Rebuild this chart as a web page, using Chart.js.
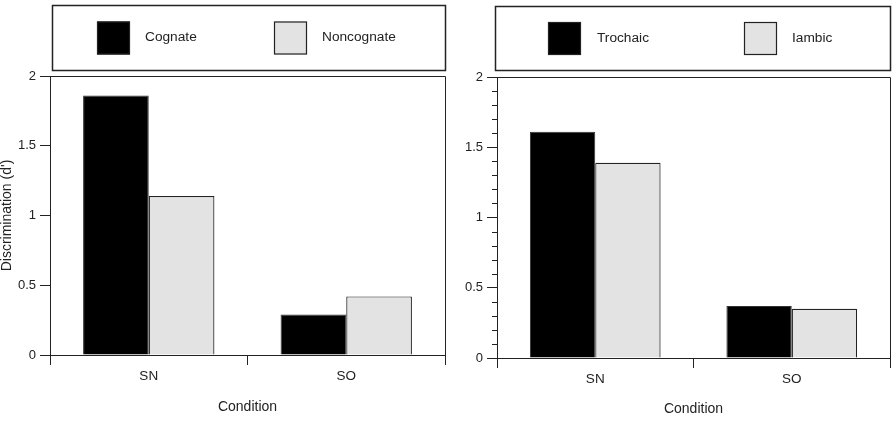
<!DOCTYPE html>
<html>
<head>
<meta charset="utf-8">
<script src="https://cdn.jsdelivr.net/npm/chart.js@4/dist/chart.umd.min.js"></script>
<style>
  html, body { margin: 0; padding: 0; background: #fff; }
  #wrap { position: relative; width: 895px; height: 424px; }
  #c1 { position: absolute; left: 0; top: 0; }
  #c2 { position: absolute; left: 450px; top: 0; }
</style>
</head>
<body>
<div id="wrap">
  <canvas id="c1" width="450" height="424"></canvas>
  <canvas id="c2" width="445" height="424"></canvas>
</div>
<script>
// ---- Data ----
const categories = ['SN', 'SO'];
const leftSeriesNames = ['Cognate', 'Noncognate'];
const cognate = [1.86, 0.29];
const noncognate = [1.14, 0.42];
const rightSeriesNames = ['Trochaic', 'Iambic'];
const trochaic = [1.61, 0.37];
const iambic = [1.39, 0.35];
const yTickValues = [0, 0.5, 1, 1.5, 2];
const yTitle = "Discrimination (d')";
const xTitle = 'Condition';

const FONT = 'Liberation Sans, Arial, sans-serif';
const BLACK = '#000000';
const GRAY = '#e3e3e3';

// Plugin: frame around plot area + custom boxed legend + optional minor ticks
const framePlugin = {
  id: 'frameLegend',
  afterDraw(chart, args, opts) {
    const ctx = chart.ctx;
    const a = chart.chartArea;
    ctx.save();
    ctx.strokeStyle = '#222';
    ctx.lineWidth = 1;
    ctx.beginPath();
    ctx.moveTo(a.left, a.top + 0.5);
    ctx.lineTo(a.right + 0.5, a.top + 0.5);
    ctx.lineTo(a.right + 0.5, a.bottom);
    ctx.stroke();
    if (opts.minor) {
      const ys = chart.scales.y;
      for (let i = 0; i <= 20; i++) {
        if (i % 5 === 0) continue;
        const py = Math.round(ys.getPixelForValue(i / 10)) + 0.5;
        ctx.beginPath();
        ctx.moveTo(a.left - 5, py);
        ctx.lineTo(a.left, py);
        ctx.stroke();
      }
    }
    const L = opts.box;
    ctx.lineWidth = 1.5;
    ctx.strokeStyle = '#222';
    ctx.strokeRect(L.x + 0.5, L.y + 0.5, L.w, L.h);
    ctx.font = '13.7px ' + FONT;
    ctx.textBaseline = 'middle';
    ctx.textAlign = 'left';
    chart.data.datasets.forEach((ds, i) => {
      const bx = opts.items[i].bx, tx = opts.items[i].tx;
      const by = L.y + L.h / 2 - 16;
      ctx.fillStyle = ds.backgroundColor;
      ctx.fillRect(bx, by, 33, 33);
      ctx.lineWidth = 1.2;
      ctx.strokeStyle = '#222';
      ctx.strokeRect(bx + 0.5, by + 0.5, 32, 32);
      ctx.fillStyle = '#222';
      ctx.fillText(ds.label, tx, L.y + L.h / 2);
    });
    ctx.restore();
  }
};

function makeChart(canvasId, names, s1, s2, cfg) {
  return new Chart(document.getElementById(canvasId), {
    type: 'bar',
    data: {
      labels: categories,
      datasets: [
        { label: names[0], data: s1, backgroundColor: BLACK, borderColor: '#333', borderWidth: 1 },
        { label: names[1], data: s2, backgroundColor: GRAY, borderColor: '#222', borderWidth: 1.2 }
      ]
    },
    options: {
      responsive: false,
      animation: false,
      devicePixelRatio: 1,
      layout: { padding: { top: cfg.top, right: cfg.right, left: 0, bottom: 0 } },
      plugins: {
        legend: { display: false },
        tooltip: { enabled: false },
        frameLegend: { box: cfg.box, items: cfg.items, minor: cfg.minor }
      },
      datasets: { bar: { categoryPercentage: 0.665, barPercentage: 1.0 } },
      scales: {
        x: {
          grid: { offset: true, drawOnChartArea: false, tickLength: 10, color: '#222', tickColor: '#222', lineWidth: 1 },
          border: { color: '#222', width: 1 },
          ticks: { color: '#222', font: { family: FONT, size: 13.5 }, padding: 3 },
          title: { display: true, text: xTitle, color: '#222', font: { family: FONT, size: 14 }, padding: { top: 0, bottom: cfg.xTitlePad } },
          afterFit(s) { s.height = cfg.xHeight; }
        },
        y: {
          min: 0, max: 2,
          afterBuildTicks(s) { s.ticks = yTickValues.map(v => ({ value: v })); },
          grid: { drawOnChartArea: false, tickLength: 10, color: '#222', tickColor: '#222' },
          border: { color: '#222', width: 1 },
          ticks: { color: '#222', font: { family: FONT, size: 13 }, padding: 4,
                   callback: v => String(v) },
          title: { display: cfg.yTitle, text: yTitle, color: '#222', font: { family: FONT, size: 14 }, padding: { top: -1.5, bottom: 0 } },
          afterFit(s) { s.width = cfg.yWidth; }
        }
      }
    },
    plugins: [framePlugin]
  });
}

makeChart('c1', leftSeriesNames, cognate, noncognate, {
  top: 76, right: 5, yWidth: 50, xHeight: 69, xTitlePad: 8.6, yTitle: true, minor: false,
  box: { x: 52, y: 5, w: 393, h: 65 },
  items: [{ bx: 97, tx: 145 }, { bx: 274, tx: 322 }]
});

makeChart('c2', rightSeriesNames, trochaic, iambic, {
  top: 77, right: 5, yWidth: 47, xHeight: 66, xTitlePad: 6.3, yTitle: false, minor: true,
  box: { x: 45, y: 6, w: 395, h: 64 },
  items: [{ bx: 98, tx: 147 }, { bx: 294, tx: 342 }]
});
</script>
</body>
</html>
